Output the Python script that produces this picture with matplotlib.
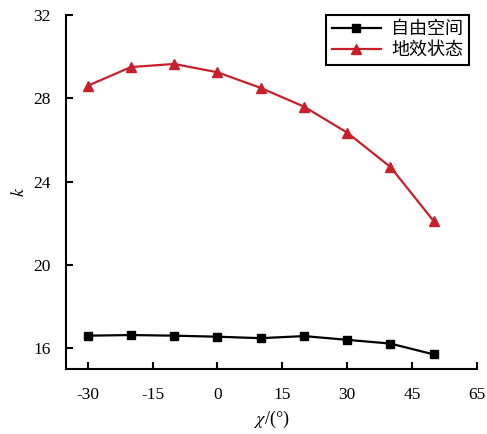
import matplotlib
matplotlib.use("Agg")
import matplotlib.pyplot as plt

angle = [-30, -20, -10, 0, 10, 20, 30, 40, 50]
k_free = [16.6, 16.63, 16.6, 16.55, 16.48, 16.58, 16.4, 16.22, 15.7]
k_ground = [28.6, 29.5, 29.65, 29.25, 28.5, 27.6, 26.35, 24.7, 22.1]

x_ticks = [-30, -15, 0, 15, 30, 45, 60]
x_tick_labels = ["-30", "-15", "0", "15", "30", "45", "65"]
y_ticks = [16, 20, 24, 28, 32]

plt.rcParams['font.family'] = ['Liberation Serif', 'Noto Sans CJK SC', 'DejaVu Sans']
plt.rcParams['mathtext.fontset'] = 'stix'

fig = plt.figure(figsize=(4.87, 4.34), dpi=100)
ax = fig.add_axes([0.1355, 0.1498, 0.844, 0.8156])

ax.plot(angle, k_free, color="black", marker="s", markersize=6, lw=1.6,
        label="自由空间")
ax.plot(angle, k_ground, color="#c8202a", marker="^", markersize=7, lw=1.6,
        label="地效状态")

ax.set_xlim(-35, 60)
ax.set_ylim(15, 32)
ax.set_xticks(x_ticks)
ax.set_xticklabels(x_tick_labels)
ax.set_yticks(y_ticks)
ax.tick_params(direction="in", length=5, width=1.5, labelsize=12.5)
ax.tick_params(axis="x", pad=13)
ax.tick_params(axis="y", pad=11)

for side in ["top", "right"]:
    ax.spines[side].set_visible(False)
for side in ["left", "bottom"]:
    ax.spines[side].set_linewidth(1.5)

ax.set_xlabel(r"$\chi$/(°)", fontsize=13, labelpad=4)
ax.set_ylabel(r"$k$", fontsize=13, labelpad=4)

leg = ax.legend(loc="upper right", bbox_to_anchor=(0.98, 1.0), borderaxespad=0,
                fancybox=False, edgecolor="black", framealpha=1, fontsize=13,
                handlelength=2.7, borderpad=0.3, labelspacing=0.15,
                handletextpad=0.6)
leg.get_frame().set_linewidth(1.5)
for t in leg.get_texts():
    t.set_family(['Noto Sans CJK SC', 'DejaVu Sans'])

fig.savefig("out.png", dpi=100)
